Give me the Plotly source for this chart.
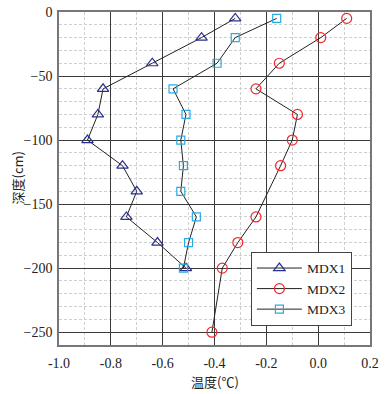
import plotly.graph_objects as go

# ── Data ──────────────────────────────────────────────
mdx1_temp = [-0.32, -0.45, -0.64, -0.83, -0.85, -0.89, -0.755, -0.70, -0.74, -0.62, -0.51]
mdx1_depth = [-5, -20, -40, -60, -80, -100, -120, -140, -160, -180, -200]

mdx2_temp = [0.11, 0.01, -0.15, -0.24, -0.08, -0.10, -0.145, -0.24, -0.31, -0.37, -0.41]
mdx2_depth = [-5, -20, -40, -60, -80, -100, -120, -160, -180, -200, -250]

mdx3_temp = [-0.16, -0.32, -0.39, -0.56, -0.51, -0.53, -0.52, -0.53, -0.47, -0.50, -0.52]
mdx3_depth = [-5, -20, -40, -60, -80, -100, -120, -140, -160, -180, -200]

x_ticks = [-1.0, -0.8, -0.6, -0.4, -0.2, 0.0, 0.2]
y_ticks = [0, -50, -100, -150, -200, -250]

_SERIF = "Liberation Serif, Times New Roman, serif"
_CJK = "Noto Sans CJK SC, sans-serif"

series = [
    ("MDX1", mdx1_temp, mdx1_depth, "triangle-up-open", "#2B2F8F", 10),
    ("MDX2", mdx2_temp, mdx2_depth, "circle-open", "#F0282D", 10),
    ("MDX3", mdx3_temp, mdx3_depth, "square-open", "#2AAAE0", 8),
]

fig = go.Figure()
for name, xs, ys, sym, col, size in series:
    fig.add_trace(
        go.Scatter(
            x=xs,
            y=ys,
            name=name,
            mode="lines+markers",
            line=dict(color="#222222", width=1),
            marker=dict(symbol=sym, size=size, color=col, line=dict(color=col, width=1.2)),
        )
    )

fig.update_layout(
    width=385,
    height=394,
    margin=dict(l=59, r=15, t=12, b=49),
    paper_bgcolor="white",
    plot_bgcolor="white",
    font=dict(family=_SERIF, size=14, color="#222222"),
    legend=dict(
        x=0.617,
        y=0.28,
        xanchor="left",
        yanchor="top",
        bgcolor="white",
        bordercolor="#444444",
        borderwidth=1,
        font=dict(family=_SERIF, size=13.5, color="#222222"),
        itemwidth=45,
    ),
    showlegend=True,
)

fig.update_xaxes(
    range=[-1.0, 0.2],
    tickvals=x_ticks,
    ticktext=[f"{v:.1f}" for v in x_ticks],
    automargin=False,
    showgrid=True,
    gridcolor="#3a3a3a",
    gridwidth=1,
    zeroline=False,
    showline=True,
    linecolor="#777777",
    linewidth=1.5,
    mirror=True,
    ticks="",
    ticklabelstandoff=4,
    minor=dict(dtick=0.1, showgrid=True, gridcolor="#cfcfcf", griddash="3px,2px", gridwidth=1),
)
fig.update_yaxes(
    range=[-260, 0],
    tickvals=y_ticks,
    automargin=False,
    showgrid=True,
    gridcolor="#3a3a3a",
    gridwidth=1,
    zeroline=False,
    showline=True,
    linecolor="#777777",
    linewidth=1.5,
    mirror=True,
    ticks="",
    ticklabelstandoff=2,
    minor=dict(dtick=10, showgrid=True, gridcolor="#cfcfcf", griddash="3px,2px", gridwidth=1),
)

# axis titles as annotations so margins stay fixed
fig.add_annotation(
    text="温度(℃)", xref="paper", yref="paper", x=0.5, y=-0.075, yanchor="top",
    showarrow=False, font=dict(family=_CJK, size=13, color="#222222"),
)
fig.add_annotation(
    text="深度(cm)", xref="paper", yref="paper", x=-0.135, y=0.5, textangle=-90,
    xanchor="center", showarrow=False, font=dict(family=_CJK, size=13, color="#222222"),
)

# drop the browser's default body margin so the figure sits at the window corner
fig.write_html(
    "out.html",
    config={"displayModeBar": False},
    post_script="document.body.style.margin='0';",
)
